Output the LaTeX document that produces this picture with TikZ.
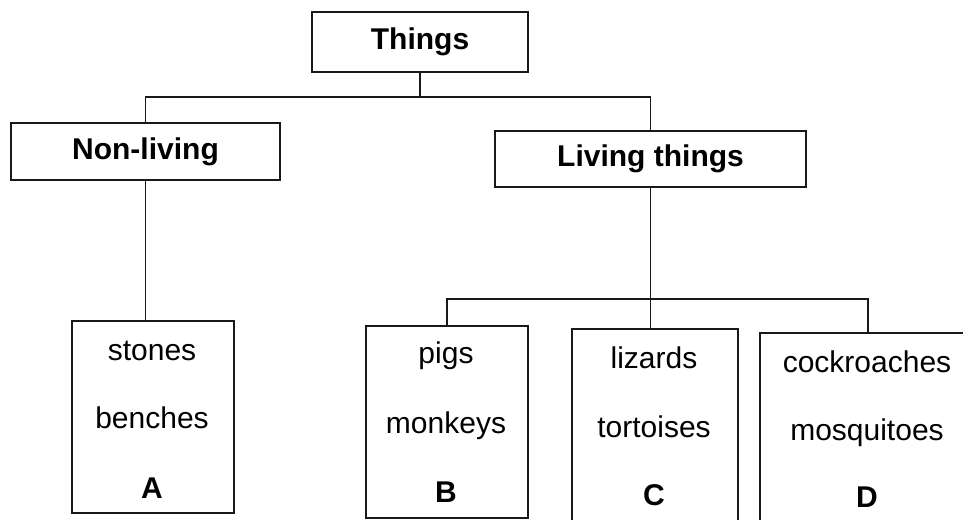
\documentclass[tikz,border=0pt]{standalone}
\usepackage{fontspec}
\setmainfont{Liberation Sans}
\tikzset{
  catbox/.style={
    rectangle,
    draw=black!90, line width=1.6pt,
    font=\fontsize{30}{36}\selectfont\bfseries,
    inner sep=0pt},
  leafbox/.style={
    rectangle,
    draw=black!90, line width=1.6pt,
    anchor=north west},
  leaftext/.style={
    font=\fontsize{30}{36}\selectfont,
    anchor=base, inner sep=0pt},
  leafmark/.style={leaftext, font=\fontsize{30}{36}\selectfont\bfseries},
  line/.style={draw=black!90, line width=1.5pt},
}

\begin{document}
\begin{tikzpicture}[x=1pt, y=-1pt]
  \clip (0,0) rectangle (963,519);
  % top of the tree
  \node[catbox, minimum width=216pt, minimum height=60pt] (things) at (420,42) {Things};
  \node[catbox, minimum width=269pt, minimum height=57pt] (nonliving) at (145.5,151.5) {Non-living};
  \node[catbox, minimum width=311pt, minimum height=56pt] (living) at (650.5,159) {Living things};

  % the four groups
  \node[leafbox, minimum width=162pt, minimum height=192pt] (boxA) at (71,320) {};
  \node[leafbox, minimum width=162pt, minimum height=192pt] (boxB) at (365,325) {};
  \node[leafbox, minimum width=166pt, minimum height=200pt] (boxC) at (571,328) {};
  \node[leafbox, minimum width=216pt, minimum height=200pt] (boxD) at (759,332) {};

  \node[leaftext] (stones) at (152,360) {stones};
  \node[leaftext] (benches) at (152,428) {benches};
  \node[leafmark] (markA) at (152,498) {A};

  \node[leaftext] (pigs) at (446,363) {pigs};
  \node[leaftext] (monkeys) at (446,433) {monkeys};
  \node[leafmark] (markB) at (446,502) {B};

  \node[leaftext] (lizards) at (654,368) {lizards};
  \node[leaftext] (tortoises) at (654,437) {tortoises};
  \node[leafmark] (markC) at (654,505) {C};

  \node[leaftext] (cockroaches) at (867,372) {cockroaches};
  \node[leaftext] (mosquitoes) at (867,440) {mosquitoes};
  \node[leafmark] (markD) at (867,507) {D};

  % connectors
  \draw[line] (things.south) -- ++(0,24) coordinate (tbranch);
  \draw[line] (nonliving.north) |- (tbranch) -| (living.north);
  \draw[line] (nonliving.south) -- (nonliving.south |- boxA.north);
  \draw[line] (living.south) -- ++(0,111) coordinate (lbranch);
  \draw[line] (boxB.north) |- (lbranch) -| (boxD.north);
  \draw[line] (lbranch) -- (lbranch |- boxC.north);
\end{tikzpicture}
\end{document}
